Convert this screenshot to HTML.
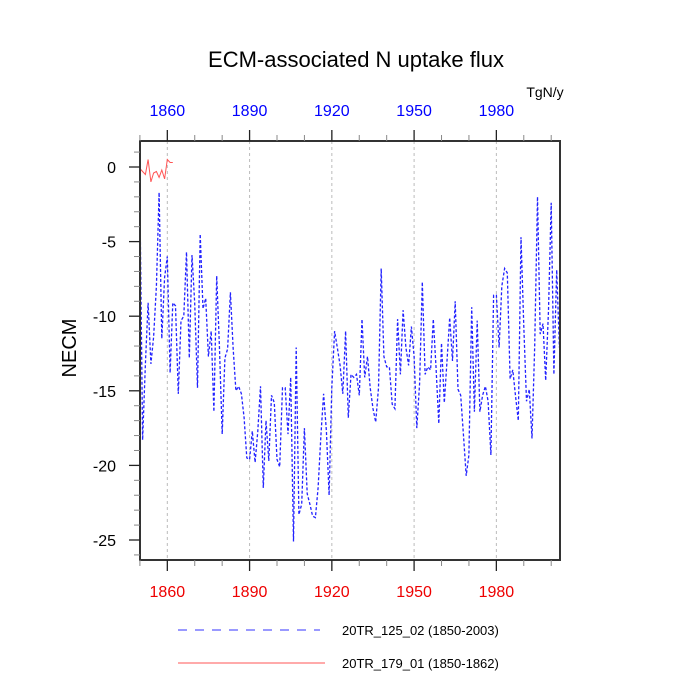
<!DOCTYPE html>
<html><head><meta charset="utf-8"><style>
body{margin:0;background:#fff}
svg{display:block;font-family:"Liberation Sans",sans-serif}
</style></head><body>
<svg id="chart" width="700" height="700" viewBox="0 0 700 700">
<text x="356" y="67" font-size="22" text-anchor="middle">ECM-associated N uptake flux</text>
<text x="545" y="97" font-size="14" text-anchor="middle">TgN/y</text>
<text transform="translate(76,348) rotate(-90)" font-size="20" text-anchor="middle">NECM</text>
<g id="grid"></g><g id="series"></g><g id="axes"></g>
<g>
<line x1="178" y1="630" x2="320" y2="630" stroke="#33f" stroke-width="1" stroke-dasharray="9,8"/>
<text x="342" y="635" font-size="13">20TR_125_02 (1850-2003)</text>
<line x1="178" y1="663" x2="325" y2="663" stroke="#f55" stroke-width="1"/>
<text x="342" y="668" font-size="13">20TR_179_01 (1850-1862)</text>
</g>
</svg>
<script>
const blueStartYear = 1850;
const blueValues = [-2,-18.3,-13.2,-9.1,-13.2,-11.4,-8,-1.7,-11.5,-7.4,-6,-13.8,-9.1,-9.3,-15.2,-10.3,-10,-5.7,-12.8,-5.9,
-9.1,-14.8,-4.5,-9.5,-8.8,-12.7,-11,-16.4,-7.3,-12,-17.9,-12.8,-12.2,-8.4,-12.1,-15,-14.7,-15.2,-16.8,-19.5,
-19.6,-17.7,-19.8,-17.7,-14.7,-21.5,-17,-19.7,-15.3,-15.8,-19.6,-20.1,-14.8,-14.8,-17.9,-14.1,-25.1,-12.1,-23.3,-22.6,
-17.5,-21.9,-22.6,-23.4,-23.5,-21.5,-18,-15.2,-17.7,-22,-14.8,-11,-12.1,-13.3,-15.2,-11,-16.8,-13.9,-14.1,-13.9,
-15.3,-10.2,-14.1,-12.7,-14.8,-16.2,-17.1,-14.8,-6.8,-12.7,-13.4,-13.4,-15.9,-16.2,-10.2,-13.9,-9.6,-12.1,-13.3,-10.7,
-12.7,-17.5,-14.5,-7.7,-13.9,-13.4,-13.6,-10.2,-13.4,-17.2,-11.8,-15.8,-13,-10.1,-13,-9,-14.9,-15.3,-18,-20.7,
-19.3,-9.4,-16.4,-10.3,-16.4,-15.3,-14.7,-15.7,-19.3,-8.6,-8.6,-12.1,-8,-6.8,-7.1,-14.2,-13.6,-15.4,-17,-4.7,
-10.7,-15.7,-14.9,-18.2,-12,-2,-11.2,-10.5,-14.3,-9.6,-2.4,-13.9,-6.9,-12.1];
const redStartYear = 1850;
const redValues = [-0.1,-0.3,-0.5,0.5,-1.0,-0.4,-0.3,-0.7,-0.2,-0.8,0.5,0.3,0.3];
const xTicks = [1860,1890,1920,1950,1980];
const xMinorTicks = [1850,1870,1880,1900,1910,1930,1940,1960,1970,1990,2000];
const yTicks = [0,-5,-10,-15,-20,-25];

const L=140,R=560,T=141,B=560;
const xs = yr => 139.9 + (yr-1850)*2.742;
const ys = v => 167 - v*14.92;
const NS="http://www.w3.org/2000/svg";
function mk(tag,attrs,parent){const e=document.createElementNS(NS,tag);for(const k in attrs)e.setAttribute(k,attrs[k]);parent.appendChild(e);return e;}
const grid=document.getElementById('grid'),series=document.getElementById('series'),axes=document.getElementById('axes');

xTicks.forEach(t=>{
  const g=mk('line',{x1:xs(t),x2:xs(t),y1:T,y2:B,stroke:'#bbb','stroke-dasharray':'3,3'},grid);
  
  
});

function path(vals,start){return vals.map((v,i)=>(i?'L':'M')+xs(start+i).toFixed(1)+' '+ys(v).toFixed(1)).join(' ');}
const bp=mk('path',{d:path(blueValues,blueStartYear),fill:'none',stroke:'#22f','stroke-width':1.3,'stroke-dasharray':'3,2'},series);


const rp=mk('path',{d:path(redValues,redStartYear),fill:'none',stroke:'#f55','stroke-width':1},series);



const frame=mk('rect',{x:L,y:T,width:R-L,height:B-T,fill:'none',stroke:'#333','stroke-width':2},axes);



xTicks.forEach(t=>{
  const x=xs(t);
  mk('line',{x1:x,x2:x,y1:B,y2:B+11,stroke:'#222','stroke-width':1.3},axes);
  mk('line',{x1:x,x2:x,y1:T,y2:T-11,stroke:'#222','stroke-width':1.3},axes);
  const b=mk('text',{x:x,y:597,'font-size':16,fill:'#e00','text-anchor':'middle'},axes);
  b.textContent=t;
  
  
  const tp=mk('text',{x:x,y:116,'font-size':16,fill:'#00f','text-anchor':'middle'},axes);
  tp.textContent=t;
  
  
});
xMinorTicks.forEach(t=>{
  const x=xs(t);
  mk('line',{x1:x,x2:x,y1:B,y2:B+6,stroke:'#888','stroke-width':1},axes);
  mk('line',{x1:x,x2:x,y1:T,y2:T-6,stroke:'#888','stroke-width':1},axes);
});
for(let v=1;v>=-26;v--){
  const y=ys(v);
  if(y<T||y>B)continue;
  const major=v%5===0;
  mk('line',{x1:L,x2:L-(major?11:6),y1:y,y2:y,stroke:major?'#222':'#888','stroke-width':major?1.3:1},axes);
}
yTicks.forEach(v=>{
  const t=mk('text',{x:116,y:ys(v)+6,'font-size':16,'text-anchor':'end'},axes);
  t.textContent=v;
  
  
});
</script>
</body></html>
